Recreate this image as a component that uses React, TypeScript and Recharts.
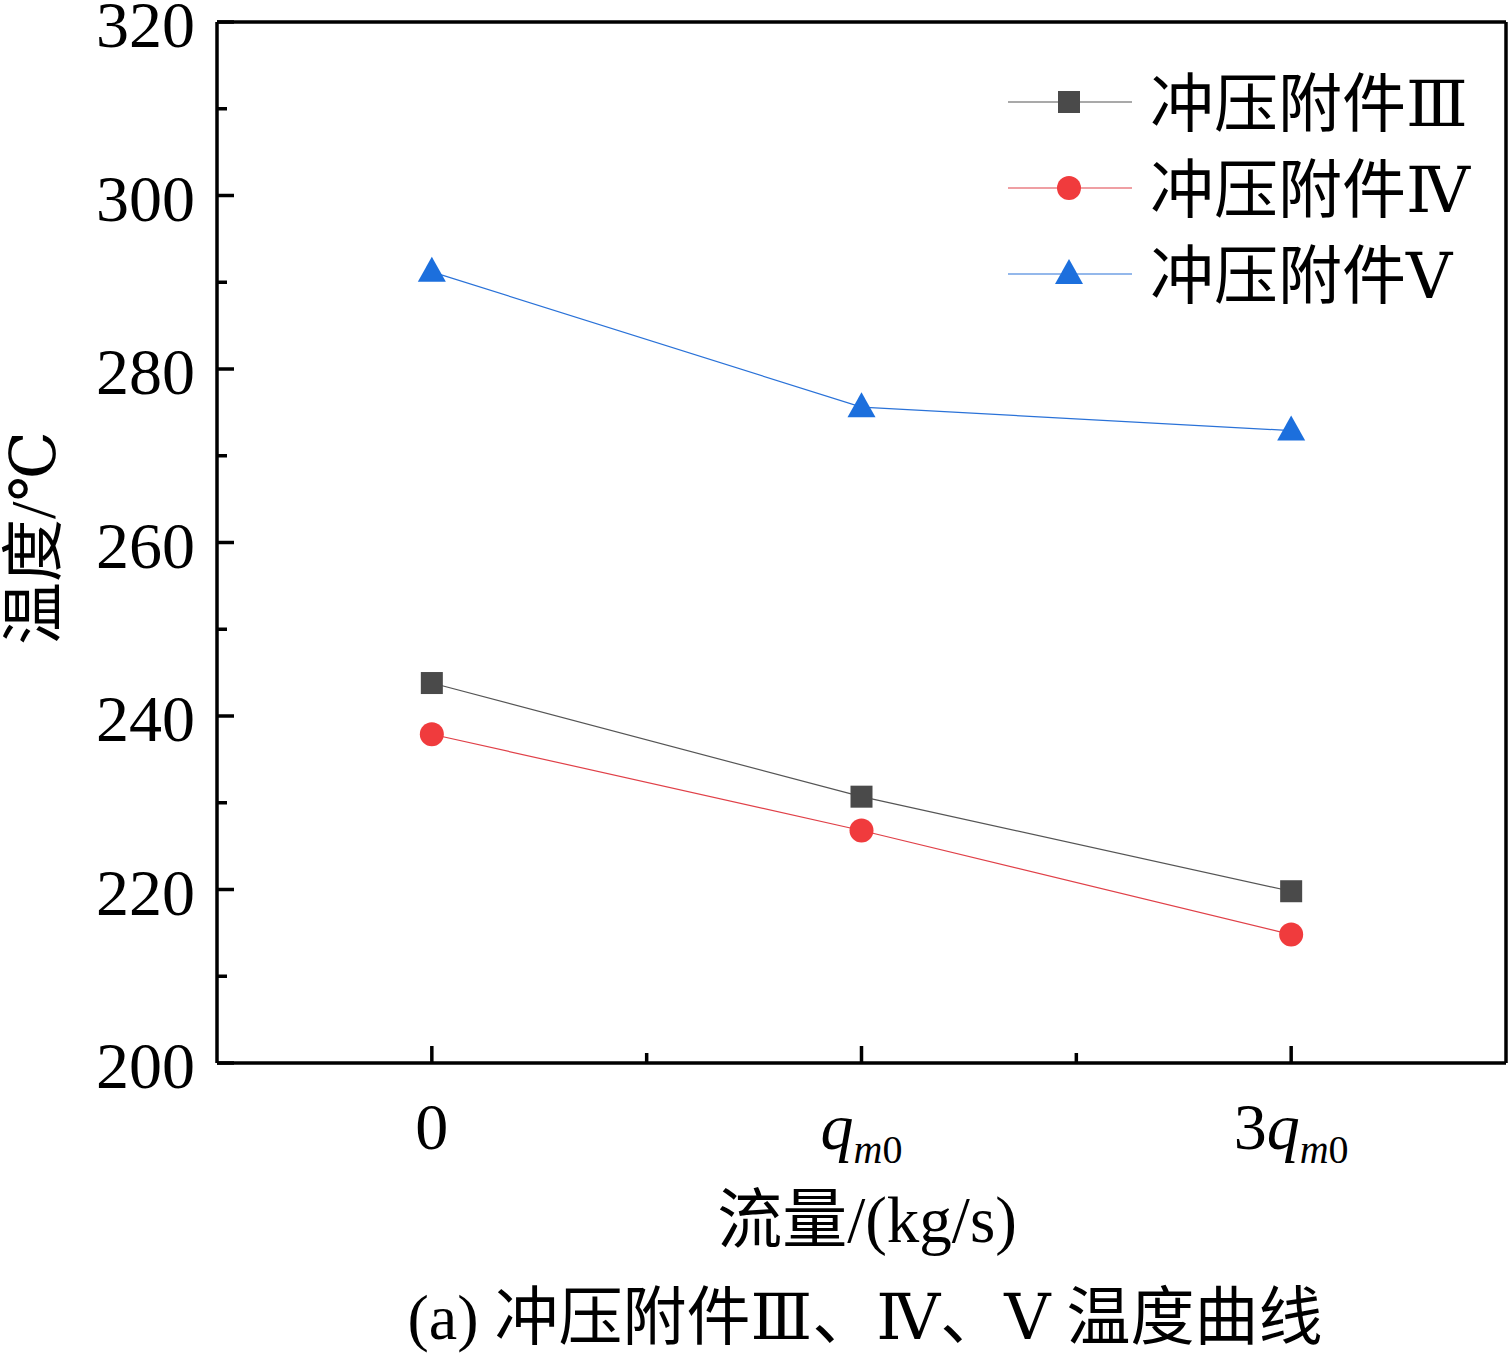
import { LineChart, Line, XAxis, YAxis, ReferenceLine } from 'recharts';

// flow positions (category index) and their labels
const flowIndex = [0, 1, 2];
const flowLabels = [
  { pre: '0', q: false },
  { pre: '', q: true },
  { pre: '3', q: true },
];

// temperatures (°C)
const tempIII = [243.8, 230.7, 219.8];
const tempIV = [237.9, 226.8, 214.8];
const tempV = [291.2, 275.6, 272.9];

const xTicks = [0, 0.5, 1, 1.5, 2];
const yTicks = [200, 210, 220, 230, 240, 250, 260, 270, 280, 290, 300, 310, 320];

const seriesNames = ['冲压附件Ⅲ', '冲压附件Ⅳ', '冲压附件Ⅴ'];

const data = flowIndex.map((x, i) => ({
  x,
  iii: tempIII[i],
  iv: tempIV[i],
  v: tempV[i],
}));

const FONT = "'Liberation Serif', 'Times New Roman', 'DejaVu Serif', 'Noto Sans CJK SC', serif";

const GRAY = '#4a4a4a';
const RED = '#f03b3d';
const BLUE = '#1c6fdd';

function SquareDot(props: any) {
  const { cx, cy } = props;
  if (cx == null || cy == null) return null;
  return <rect x={cx - 11} y={cy - 11} width={22} height={22} fill={GRAY} />;
}

function CircleDot(props: any) {
  const { cx, cy } = props;
  if (cx == null || cy == null) return null;
  return <circle cx={cx} cy={cy} r={12} fill={RED} />;
}

function TriangleDot(props: any) {
  const { cx, cy } = props;
  if (cx == null || cy == null) return null;
  return (
    <polygon
      points={`${cx},${cy - 15} ${cx + 14},${cy + 10} ${cx - 14},${cy + 10}`}
      fill={BLUE}
    />
  );
}

function XTick(props: any) {
  const { x, y, payload } = props;
  const v = payload.value as number;
  const major = Number.isInteger(v);
  const lab = major ? flowLabels[v] : null;
  return (
    <g>
      <line x1={x} x2={x} y1={y} y2={y - (major ? 17 : 10)} stroke="#000" strokeWidth={3.5} />
      {lab && (
        <text
          x={x}
          y={y + 86}
          textAnchor="middle"
          fontFamily={FONT}
          fontSize={66}
          fill="#000"
        >
          {lab.pre}
          {lab.q && <tspan fontStyle="italic">q</tspan>}
          {lab.q && (
            <tspan fontSize={40} dy={14}>
              <tspan fontStyle="italic">m</tspan>0
            </tspan>
          )}
        </text>
      )}
    </g>
  );
}

function YTick(props: any) {
  const { x, y, payload } = props;
  const v = payload.value as number;
  const major = v % 20 === 0;
  return (
    <g>
      <line x1={x} x2={x + (major ? 17 : 10)} y1={y} y2={y} stroke="#000" strokeWidth={3.5} />
      {major && (
        <text
          x={x - 22}
          y={y + 25}
          textAnchor="end"
          fontFamily={FONT}
          fontSize={66}
          fill="#000"
        >
          {v}
        </text>
      )}
    </g>
  );
}

const legendIcons = [SquareDot, CircleDot, TriangleDot];
const lineColors = ['#555', '#e04048', '#2a72d8'];

function LegendBox() {
  return (
    <svg width={480} height={300} style={{ display: 'block' }}>
      {seriesNames.map((name, i) => {
        const Icon = legendIcons[i];
        const cy = 40 + i * 86;
        return (
          <g key={name}>
            <line x1={8} x2={132} y1={cy} y2={cy} stroke={lineColors[i]} strokeWidth={1.2} />
            <Icon cx={69} cy={cy} />
            <text x={150} y={cy + 24} fontFamily={FONT} fontSize={64} fill="#000">
              {name}
            </text>
          </g>
        );
      })}
    </svg>
  );
}

const textStyle: React.CSSProperties = {
  position: 'absolute',
  fontFamily: FONT,
  color: '#000',
  whiteSpace: 'nowrap',
  lineHeight: 1,
};

export default function App() {
  return (
    <div style={{ position: 'absolute', left: 0, top: 0, width: 1509, height: 1356, background: '#fff', overflow: 'hidden' }}>
      <LineChart
        width={1509}
        height={1356}
        data={data}
        margin={{ top: 22, right: 3, left: 0, bottom: 0 }}
      >
        <XAxis
          type="number"
          dataKey="x"
          domain={[-0.5, 2.5]}
          ticks={xTicks}
          interval={0}
          height={293}
          tickSize={0}
          tickMargin={0}
          tickLine={false}
          axisLine={{ stroke: '#000', strokeWidth: 3.5 }}
          tick={<XTick />}
        />
        <YAxis
          type="number"
          domain={[200, 320]}
          ticks={yTicks}
          interval={0}
          width={217}
          tickSize={0}
          tickMargin={0}
          tickLine={false}
          axisLine={{ stroke: '#000', strokeWidth: 3.5 }}
          tick={<YTick />}
        />
        <ReferenceLine y={320} stroke="#000" strokeWidth={3.5} />
        <ReferenceLine x={2.5} stroke="#000" strokeWidth={3.5} />
        <Line
          dataKey="iii"
          name={seriesNames[0]}
          stroke={lineColors[0]}
          strokeWidth={1.2}
          dot={<SquareDot />}
          activeDot={false}
          isAnimationActive={false}
        />
        <Line
          dataKey="iv"
          name={seriesNames[1]}
          stroke={lineColors[1]}
          strokeWidth={1.2}
          dot={<CircleDot />}
          activeDot={false}
          isAnimationActive={false}
        />
        <Line
          dataKey="v"
          name={seriesNames[2]}
          stroke={lineColors[2]}
          strokeWidth={1.2}
          dot={<TriangleDot />}
          activeDot={false}
          isAnimationActive={false}
        />
      </LineChart>
      <div style={{ position: 'absolute', left: 1000, top: 62 }}>
        <LegendBox />
      </div>
      <div
        style={{
          ...textStyle,
          left: 34,
          top: 538,
          fontSize: 63,
          transform: 'translate(-50%, -50%) rotate(-90deg)',
        }}
      >
        温度/℃
      </div>
      <div style={{ ...textStyle, left: 867, top: 1220, fontSize: 65, transform: 'translate(-50%, -50%)' }}>
        流量/(kg/s)
      </div>
      <div style={{ ...textStyle, left: 865, top: 1318, fontSize: 64, transform: 'translate(-50%, -50%)' }}>
        (a) 冲压附件Ⅲ、Ⅳ、Ⅴ 温度曲线
      </div>
    </div>
  );
}
